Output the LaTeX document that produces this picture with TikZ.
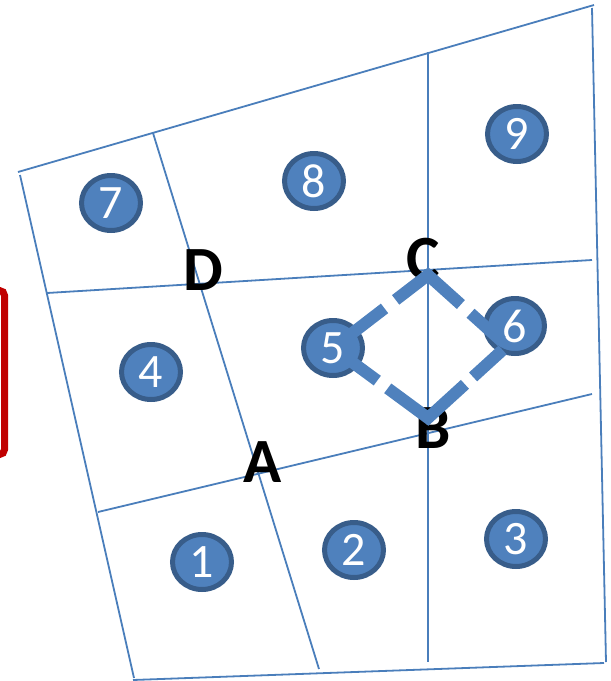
\documentclass[tikz,border=0pt]{standalone}
\usepackage{fontspec}
\setmainfont{Carlito}
\usetikzlibrary{shapes.geometric}
\definecolor{meshblue}{HTML}{4A7EBB}
\definecolor{cellfill}{HTML}{4F81BD}
\definecolor{celledge}{HTML}{385D8A}
\definecolor{markred}{HTML}{C00000}
\tikzset{
  mesh/.style={meshblue, line width=1.8pt},
  cell/.style={ellipse, fill=cellfill, draw=celledge, line width=5pt,
    minimum width=59pt, minimum height=55pt, inner sep=0pt,
    text=white, font=\fontsize{48}{48}\selectfont},
  corner/.style={inner sep=0pt, font=\bfseries\fontsize{63}{63}\selectfont},
  dualpath/.style={cellfill, line width=12pt, line join=miter}
}
\begin{document}
\begin{tikzpicture}[x=1pt, y=-1pt]
            \useasboundingbox (0,0) rectangle (611,681);
            % Outer boundary
            \draw[mesh] (18,172) -- (594,5);
            \draw[mesh] (592,8) -- (606,662);
            \draw[mesh] (604,663) -- (133,680);
            \draw[mesh] (20,175) -- (134,678);
            % Inner grid lines
            \draw[mesh] (47,293) -- (592,260);
            \draw[mesh] (98,512) -- (592,394);
            \draw[mesh] (153,133) -- (319,669);
            \draw[mesh] (428,52) -- (428,662);
            % Cells
            \node[cell] (c1) at (202,562) {1};
            \node[cell] (c2) at (354,550) {2};
            \node[cell] (c3) at (516,539) {3};
            \node[cell] (c4) at (151,372) {4};
            \node[cell] (c5) at (333,348) {5};
            \node[cell] (c6) at (515,326) {6};
            \node[cell] (c7) at (111,203) {7};
            \node[cell] (c8) at (314,181) {8};
            \node[cell] (c9) at (517,134) {9};
            % Corner labels
            \node[corner] (labA) at (263,462) {A};
            \node[corner] (labB) at (433,428) {B};
            \node[corner] (labC) at (423,259) {C};
            \node[corner] (labD) at (203,270) {D};
            % Dashed diamond
            \coordinate (vC) at (428,275);
            \coordinate (vB) at (428,418);
            \coordinate (vR) at (507,346);
            \draw[dualpath, dash pattern=on 0pt off 12pt on 53pt off 14pt on 85pt off 13pt on 42pt off 20pt]
              (c5.center) -- (vC) -- (vR);
            \draw[dualpath, dash pattern=on 0pt off 14pt on 41pt off 13pt on 100pt off 11pt on 40pt off 20pt]
              (c5.center) -- (vB) -- (vR);
            % Red bracket at the left border
            \begin{scope}
              \clip (0,0) rectangle (611,681);
              \draw[markred, line width=7pt, rounded corners=5pt]
                (-20,290.5) -- (4.5,290.5) -- (4.5,454.5) -- (-20,454.5);
            \end{scope}
        \end{tikzpicture}
\end{document}
